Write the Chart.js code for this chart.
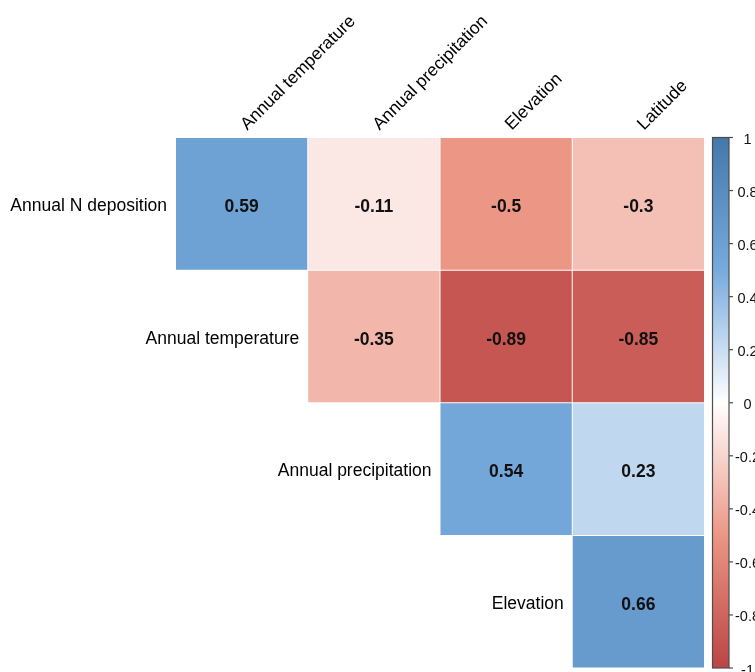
<!DOCTYPE html>
<html>
<head>
<meta charset="utf-8">
<script src="https://cdn.jsdelivr.net/npm/chart.js@4.4.1/dist/chart.umd.min.js"></script>
<style>
  html, body { margin: 0; padding: 0; overflow: hidden; background: #ffffff; width: 755px; height: 672px; }
  #wrap { position: absolute; left: 0; top: 0; width: 790px; height: 672px; }
</style>
</head>
<body>
<div id="wrap"><canvas id="corr"></canvas></div>
<script>
// Variables of the correlation matrix (upper triangle only)
const rowLabels = ['Annual N deposition', 'Annual temperature', 'Annual precipitation', 'Elevation'];
const colLabels = ['Annual temperature', 'Annual precipitation', 'Elevation', 'Latitude'];

// Pearson correlations, one array per row (null = lower triangle, not drawn)
const nDepositionCorr   = [0.59, -0.11, -0.5, -0.3];
const temperatureCorr   = [null, -0.35, -0.89, -0.85];
const precipitationCorr = [null, null, 0.54, 0.23];
const elevationCorr     = [null, null, null, 0.66];
const corrRows = [nDepositionCorr, temperatureCorr, precipitationCorr, elevationCorr];

// Colour legend ticks
const legendTicks = [1, 0.8, 0.6, 0.4, 0.2, 0, -0.2, -0.4, -0.6, -0.8, -1];

// Diverging red-white-blue ramp
const rampStops = [
  [-1.0, [187, 68, 68]],
  [-0.5, [236, 150, 133]],
  [ 0.0, [255, 255, 255]],
  [ 0.5, [119, 170, 221]],
  [ 1.0, [68, 119, 170]]
];
function rampColor(v) {
  for (let k = 1; k < rampStops.length; k++) {
    const [v1, c1] = rampStops[k];
    const [v0, c0] = rampStops[k - 1];
    if (v <= v1 || k === rampStops.length - 1) {
      const t = Math.max(0, Math.min(1, (v - v0) / (v1 - v0)));
      const c = c0.map((x, i) => Math.round(x + (c1[i] - x) * t));
      return `rgb(${c[0]},${c[1]},${c[2]})`;
    }
  }
}

const FONT = '"Liberation Sans", Arial, sans-serif';

// Text labels and the colour legend, placed from the chart's scales
const corrDecorations = {
  id: 'corrDecorations',
  afterDatasetsDraw(chart) {
    const ctx = chart.ctx;
    const area = chart.chartArea;
    const xs = chart.scales.x;
    const ys = chart.scales.y;
    const cb = chart.scales.cb;

    ctx.save();

    // values inside the cells
    ctx.fillStyle = '#111111';
    ctx.font = `bold 17.5px ${FONT}`;
    ctx.textAlign = 'center';
    ctx.textBaseline = 'middle';
    corrRows.forEach((row, i) => {
      row.forEach((v, j) => {
        if (v === null) return;
        ctx.fillText(String(v), xs.getPixelForValue(j), ys.getPixelForValue(i + 0.5) + 3.5);
      });
    });

    // row labels, just left of the first cell of each row
    ctx.font = `17.5px ${FONT}`;
    ctx.textAlign = 'right';
    ctx.fillStyle = '#000000';
    rowLabels.forEach((lab, i) => {
      const bar = chart.getDatasetMeta(i).data[i];
      const left = bar.x - bar.width / 2;
      ctx.fillText(lab, left - 8.5, ys.getPixelForValue(i + 0.5) + 2.5);
    });

    // column labels, rotated 45 degrees above the grid
    ctx.textAlign = 'left';
    ctx.textBaseline = 'bottom';
    colLabels.forEach((lab, j) => {
      ctx.save();
      ctx.translate(xs.getPixelForValue(j) + 8.5, area.top - 4);
      ctx.rotate(-Math.PI / 4);
      ctx.fillText(lab, 0, 0);
      ctx.restore();
    });

    // colour legend bar
    const barLeft = area.right + 8;
    const barW = 16.5;
    const top = cb.getPixelForValue(1);
    const bottom = cb.getPixelForValue(-1);
    const grad = ctx.createLinearGradient(0, top, 0, bottom);
    rampStops.forEach(([v, c]) => grad.addColorStop((1 - v) / 2, `rgb(${c[0]},${c[1]},${c[2]})`));
    ctx.fillStyle = grad;
    ctx.fillRect(barLeft, top, barW, bottom - top);
    ctx.strokeStyle = '#4d4d4d';
    ctx.lineWidth = 1.2;
    ctx.strokeRect(barLeft, top, barW, bottom - top);

    ctx.font = `14.5px ${FONT}`;
    ctx.textAlign = 'center';
    ctx.textBaseline = 'middle';
    ctx.fillStyle = '#111111';
    legendTicks.forEach(t => {
      const y = cb.getPixelForValue(t);
      ctx.beginPath();
      ctx.moveTo(barLeft + barW, y);
      ctx.lineTo(barLeft + barW + 4, y);
      ctx.stroke();
      ctx.fillText(String(t), barLeft + barW + 18.5, y + 2.5);
    });

    ctx.restore();
  }
};

new Chart(document.getElementById('corr'), {
  type: 'bar',
  data: {
    labels: colLabels,
    datasets: corrRows.map((row, i) => ({
      label: rowLabels[i],
      data: row.map(v => (v === null ? null : [i, i + 1])),
      backgroundColor: row.map(v => (v === null ? 'rgba(0,0,0,0)' : rampColor(v))),
      borderColor: 'rgba(255,255,255,0.1)',
      borderWidth: 1,
      borderSkipped: false,
      inflateAmount: 0.5,
      barPercentage: 1,
      categoryPercentage: 1,
      grouped: false
    }))
  },
  plugins: [corrDecorations],
  options: {
    responsive: true,
    maintainAspectRatio: false,
    animation: false,
    layout: { padding: { left: 175.5, top: 137.5, right: 85.5, bottom: 4 } },
    plugins: { legend: { display: false }, tooltip: { enabled: false } },
    scales: {
      x: { type: 'category', display: false, offset: true },
      y: { type: 'linear', min: 0, max: 4, reverse: true, display: false },
      cb: { type: 'linear', axis: 'y', position: 'right', min: -1, max: 1, display: false }
    }
  }
});
</script>
</body>
</html>
